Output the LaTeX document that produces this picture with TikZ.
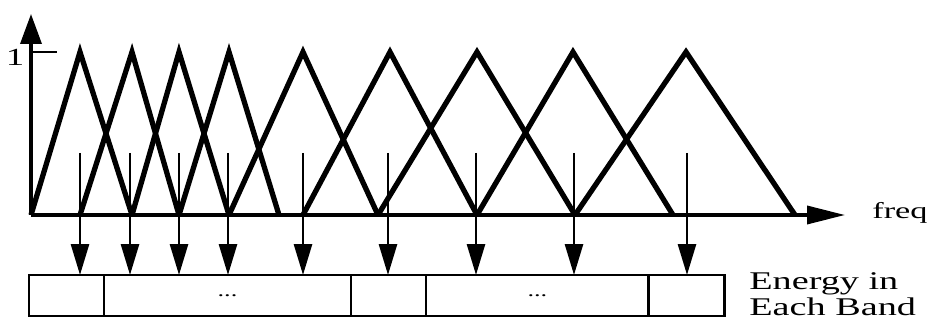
\documentclass[tikz,border=0pt]{standalone}
\usepackage{fontspec}
\setmainfont{Liberation Serif}
\usepackage{graphicx}
\usetikzlibrary{arrows.meta, positioning}
\newcommand{\wide}[1]{\scalebox{1.5}[1]{#1}}

\begin{document}
\begin{tikzpicture}[
    x=0.02cm, y=-0.02cm,
    node distance=0pt,
    tri/.style={line width=3pt, line join=miter},
    axis/.style={line width=2pt, -{Triangle[length=0.6cm, width=0.42cm]}},
    band/.style={line width=1.6pt, -{Triangle[length=0.62cm, width=0.36cm]}},
    cell/.style={draw, line width=1.6pt, minimum height=0.82cm, outer sep=0pt, inner sep=0pt,
                 font=\fontsize{10}{10}\selectfont},
    lbl/.style={inner sep=0pt, align=left}
]
\useasboundingbox (0,0) rectangle (927,320);

\coordinate (o) at (31,215);
\coordinate (ytop) at (31,14);
\coordinate (xend) at (845,215);

\foreach \a/\p/\b in {31/80/132, 80/132/179, 132/179/229, 179/229/279, 229/303/378,
                      303/390/477, 378/477/575, 477/573/673, 575/686/795}
  \draw[tri] (\a,215) -- (\p,52) -- (\b,215);

\draw[axis] (o) -- (ytop);
\draw[axis, -{Triangle[length=0.76cm, width=0.36cm]}] (o) -- (xend);
\draw[line width=1.6pt] (31,52) -- (57,52);

\node[lbl, font=\fontsize{14}{14}\selectfont] (one) at (15,57) {\wide{1}};
\node[lbl, font=\fontsize{13}{13}\selectfont, anchor=west] (freq) at (872,213) {\wide{freq}};

\node[cell, minimum width=1.5cm, anchor=north west] (b1) at (29,275) {};
\node[cell, minimum width=4.94cm, right=of b1] (b2) {\wide{...}};
\node[cell, minimum width=1.5cm, right=of b2] (b3) {};
\node[cell, minimum width=4.46cm, right=of b3] (b4) {\wide{...}};
\node[cell, minimum width=1.52cm, right=of b4] (b5) {};

\node[lbl, font=\fontsize{14.5}{15}\selectfont, anchor=west] (energy) at (749,294)
  {\wide{Energy in}\\\wide{Each Band}};

\foreach \x [count=\i] in {80,130,179,228,303,388,476,574,687} {
  \coordinate (t\i) at (\x,153);
  \draw[band] (t\i) -- (t\i |- b1.north);
}

\end{tikzpicture}
\end{document}
